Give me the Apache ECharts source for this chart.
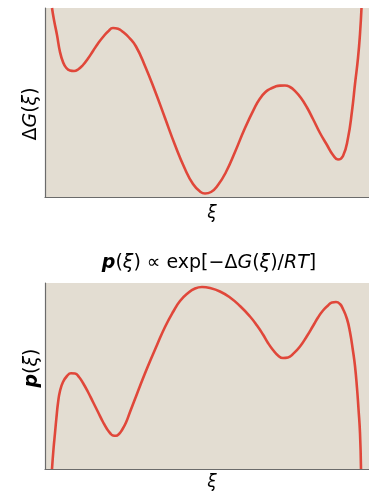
<!DOCTYPE html>
<html>
<head>
<meta charset="utf-8">
<script src="https://cdn.jsdelivr.net/npm/echarts@6/dist/echarts.min.js"></script>
<style>
  html, body { margin: 0; padding: 0; background: #fff; }
  #chart { width: 369px; height: 491px; }
</style>
</head>
<body>
<div id="chart"></div>
<script>
  // reaction coordinate positions (arbitrary units)
  const xiG = [7, 9, 12, 15, 18, 21, 25, 29, 33, 38, 43, 48, 53, 58, 63, 68, 73, 78, 84, 91, 100, 110,
    120, 130, 140, 148, 155, 160, 166, 173, 181, 190, 200, 210, 215, 220, 225, 230, 235, 240, 245, 250, 256, 262,
    268, 275, 282, 288, 293, 298, 303, 307, 310, 313, 315, 316.5];
  // free energy profile ΔG(ξ) (0 = bottom of panel)
  const dG = [189, 177, 162, 145, 135, 129.5, 126.5, 126, 127.5, 132, 138.5, 146, 153.5, 160, 165.5, 169, 168.2, 165, 159.5, 150.5, 131, 106,
    79, 52, 28, 13, 5.5, 3.5, 5, 12, 25, 45, 69, 90, 98.5, 104.5, 108, 110.3, 111.4, 111.5, 110, 106, 99, 89.5,
    78, 64, 52, 42, 37.5, 41, 59, 86, 113, 139, 163, 189];

  const xiP = [7, 8.5, 10, 11.5, 13, 15, 18, 22, 26, 30, 34, 38, 43, 48, 53, 58, 62, 65, 68, 71,
    74, 77, 81, 85, 90, 95, 103, 112, 120, 128, 135, 143, 150, 157, 165, 175, 185, 195, 205, 212,
    218, 223, 228, 233, 238, 243, 248, 255, 262, 268, 273, 278, 283, 287, 291, 295, 298, 302, 305, 308,
    310, 312, 313.5, 315, 316];
  // probability density p(ξ) (0 = bottom of panel)
  const pXi = [0, 20, 36, 52, 66, 78, 87, 93, 95.7, 95.5, 92, 86, 77, 67, 57, 47, 40, 36, 33.5, 33.2,
    35, 39, 46.5, 57, 70, 83, 103, 124, 142, 157, 168, 176, 180.5, 182, 181, 177.5, 171.5, 163, 152.5, 143.5,
    134.5, 126, 119, 113.5, 111, 111.5, 115, 122.5, 133, 143, 151.5, 158.5, 163.5, 166.5, 167, 165, 160, 150, 137, 118,
    103, 81, 60, 36, 0];

  function pairs(xs, ys) {
    return xs.map((x, i) => [x, ys[i]]);
  }

  const red = '#e0473a';
  const panel = '#e3ddd2';
  const axisCol = '#6b6b6b';
  const font = 'DejaVu Sans';
  const ink = '#262626';

  function richOf(size) {
    return {
      it: { fontStyle: 'italic', fontWeight: 'normal', fontSize: size, fontFamily: font, color: ink },
      bi: { fontStyle: 'italic', fontWeight: 'bold', fontSize: size, fontFamily: font, color: ink },
      r: { fontStyle: 'normal', fontWeight: 'normal', fontSize: size, fontFamily: font, color: ink }
    };
  }

  function hideAxis(extra) {
    return Object.assign({
      type: 'value',
      axisLine: { show: true, lineStyle: { color: axisCol, width: 1.2 } },
      axisTick: { show: false }, axisLabel: { show: false }, splitLine: { show: false }
    }, extra);
  }

  const chart = echarts.init(document.getElementById('chart'), null, { renderer: 'canvas' });

  const option = {
    backgroundColor: '#fff',
    animation: false,
    grid: [
      { left: 45, right: 0, top: 8, height: 189, show: true, backgroundColor: panel, borderWidth: 0 },
      { left: 45, right: 0, top: 283, height: 186, show: true, backgroundColor: panel, borderWidth: 0 }
    ],
    xAxis: [
      hideAxis({ gridIndex: 0, min: 0, max: 324 }),
      hideAxis({ gridIndex: 1, min: 0, max: 324 })
    ],
    yAxis: [
      hideAxis({ gridIndex: 0, min: 0, max: 189 }),
      hideAxis({ gridIndex: 1, min: 0, max: 186 })
    ],
    graphic: [
      {
        type: 'text', x: 209, y: 263,
        style: {
          text: '{bi|p}{r|(}{it|ξ}{r|) ∝ exp[−Δ}{it|G}{r|(}{it|ξ}{r|)/}{it|RT}{r|]}',
          rich: richOf(19), align: 'center', verticalAlign: 'middle'
        }
      },
      {
        type: 'text', x: 31, y: 114, rotation: Math.PI / 2,
        style: { text: '{r|Δ}{it|G}{r|(}{it|ξ}{r|)}', rich: richOf(19), align: 'center', verticalAlign: 'middle' }
      },
      {
        type: 'text', x: 32, y: 368, rotation: Math.PI / 2,
        style: { text: '{bi|p}{r|(}{it|ξ}{r|)}', rich: richOf(19), align: 'center', verticalAlign: 'middle' }
      },
      {
        type: 'text', x: 212, y: 214,
        style: { text: '{it|ξ}', rich: richOf(17), align: 'center', verticalAlign: 'middle' }
      },
      {
        type: 'text', x: 212, y: 483,
        style: { text: '{it|ξ}', rich: richOf(17), align: 'center', verticalAlign: 'middle' }
      }
    ],
    series: [
      {
        type: 'line', xAxisIndex: 0, yAxisIndex: 0,
        data: pairs(xiG, dG), smooth: 0.5, showSymbol: false, clip: true,
        lineStyle: { color: red, width: 2.6 }
      },
      {
        type: 'line', xAxisIndex: 1, yAxisIndex: 1,
        data: pairs(xiP, pXi), smooth: 0.5, showSymbol: false, clip: true,
        lineStyle: { color: red, width: 2.6 }
      }
    ]
  };

  chart.setOption(option);
</script>
</body>
</html>
